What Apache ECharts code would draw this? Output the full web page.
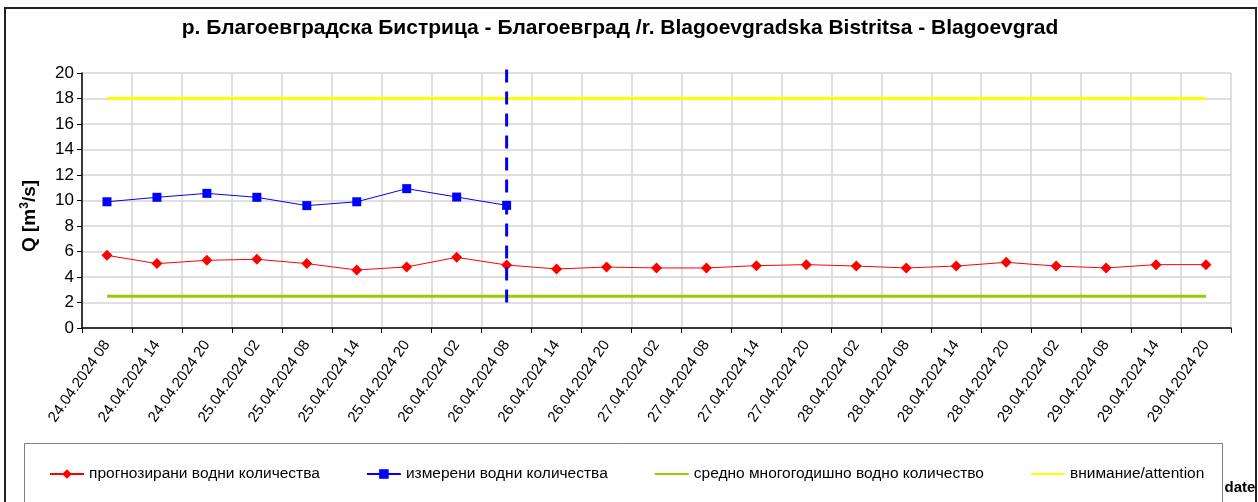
<!DOCTYPE html>
<html>
<head>
<meta charset="utf-8">
<script src="https://cdn.jsdelivr.net/npm/echarts@6/dist/echarts.min.js"></script>
<style>html,body{margin:0;padding:0;background:#fff;}#c{width:1258px;height:502px;}</style>
</head>
<body>
<div id="c"></div>
<script>
const categories = ['24.04.2024 08','24.04.2024 14','24.04.2024 20','25.04.2024 02','25.04.2024 08','25.04.2024 14','25.04.2024 20','26.04.2024 02','26.04.2024 08','26.04.2024 14','26.04.2024 20','27.04.2024 02','27.04.2024 08','27.04.2024 14','27.04.2024 20','28.04.2024 02','28.04.2024 08','28.04.2024 14','28.04.2024 20','29.04.2024 02','29.04.2024 08','29.04.2024 14','29.04.2024 20'];
const forecast = [5.7, 5.05, 5.31, 5.39, 5.05, 4.55, 4.79, 5.54, 4.94, 4.63, 4.78, 4.71, 4.71, 4.89, 4.97, 4.86, 4.71, 4.86, 5.15, 4.86, 4.71, 4.97, 4.97];
const measured = [9.9, 10.25, 10.56, 10.25, 9.6, 9.9, 10.93, 10.27, 9.62];
const meanLevel = 2.5;
const attentionLevel = 18;
const nowIndex = 8;
const nowLineRange = [2.0, 20.8];
const yTicks = {min: 0, max: 20, interval: 2};
const seriesNames = ['прогнозирани водни количества','измерени водни количества','средно многогодишно водно количество','внимание/attention'];
const titleText = 'р. Благоевградска Бистрица - Благоевград /r. Blagoevgradska Bistritsa - Blagoevgrad';

const FONT = "'Liberation Sans', Arial, sans-serif";
const chart = echarts.init(document.getElementById('c'), null, {renderer: 'canvas'});
chart.setOption({
  animation: false,
  textStyle: {fontFamily: FONT, color: '#000'},
  graphic: [
    {type: 'rect', shape: {x: 5, y: 8, width: 1251, height: 520}, style: {fill: 'none', stroke: '#222', lineWidth: 2}, z: -10},
    {type: 'rect', shape: {x: 24.5, y: 443.5, width: 1198, height: 80}, style: {fill: 'none', stroke: '#808080', lineWidth: 1}, z: -10},
    {type: 'text', x: 620, y: 28, style: {text: titleText, font: "bold 21px " + FONT, fill: '#000', textAlign: 'center', textVerticalAlign: 'middle'}},
    {type: 'text', x: 1240, y: 488, style: {text: 'date', font: "bold 15px " + FONT, fill: '#000', textAlign: 'center', textVerticalAlign: 'middle'}},
    {type: 'text', x: 30, y: 216, rotation: Math.PI / 2,
     style: {text: '{a|Q [m}{s|3}{a|/s]}', textAlign: 'center', textVerticalAlign: 'middle',
       rich: {a: {fontSize: 19, fontWeight: 'bold', fontFamily: FONT, fill: '#000'}, s: {fontSize: 12, fontWeight: 'bold', fontFamily: FONT, fill: '#000', padding: [0, 0, 10, 0]}}}}
  ],
  grid: {left: 82, right: 27, top: 73, bottom: 174, containLabel: false},
  legend: {
    left: 44, top: 461, itemWidth: 34, itemHeight: 12, itemGap: 46,
    textStyle: {fontSize: 15.5, fontFamily: FONT, color: '#000'},
    data: [
      {name: seriesNames[0]},
      {name: seriesNames[1]},
      {name: seriesNames[2], itemStyle: {opacity: 0}},
      {name: seriesNames[3], itemStyle: {opacity: 0}}
    ]
  },
  xAxis: {
    type: 'category', data: categories, boundaryGap: true,
    axisLine: {lineStyle: {color: '#000', width: 1.5}},
    axisTick: {show: true, length: 5, lineStyle: {color: '#000'}},
    axisLabel: {rotate: 55, fontSize: 15, color: '#000', margin: 14, interval: 0},
    splitLine: {show: true, lineStyle: {color: '#d4d4d4', width: 1.5}}
  },
  yAxis: {
    type: 'value', min: yTicks.min, max: yTicks.max, interval: yTicks.interval,
    axisLine: {show: true, lineStyle: {color: '#000', width: 1.5}},
    axisTick: {show: true, inside: false, length: 5, lineStyle: {color: '#000'}},
    axisLabel: {fontSize: 17, color: '#000', margin: 8},
    splitLine: {show: true, lineStyle: {color: '#d4d4d4', width: 1.5}}
  },
  series: [
    {name: seriesNames[0], type: 'line', data: forecast, symbol: 'diamond', symbolSize: 11,
     itemStyle: {color: '#ff0000'}, lineStyle: {color: '#ff0000', width: 1}, z: 5},
    {name: seriesNames[1], type: 'line', data: measured, symbol: 'rect', symbolSize: 9,
     itemStyle: {color: '#0000ff'}, lineStyle: {color: '#0000ff', width: 1}, z: 5},
    {name: seriesNames[2], type: 'line', data: categories.map(() => meanLevel), symbol: 'none', showSymbol: false,
     itemStyle: {color: '#99cc00'}, lineStyle: {color: '#99cc00', width: 3}, z: 3},
    {name: seriesNames[3], type: 'line', data: categories.map(() => attentionLevel), symbol: 'none', showSymbol: false,
     itemStyle: {color: '#ffff00'}, lineStyle: {color: '#ffff00', width: 3}, z: 3},
    {name: 'now', type: 'line', data: [[nowIndex, nowLineRange[0]], [nowIndex, nowLineRange[1]]], symbol: 'none', clip: false,
     lineStyle: {color: '#0000ff', width: 3, type: [13, 9]}, z: 6, silent: true}
  ]
});
</script>
</body>
</html>
